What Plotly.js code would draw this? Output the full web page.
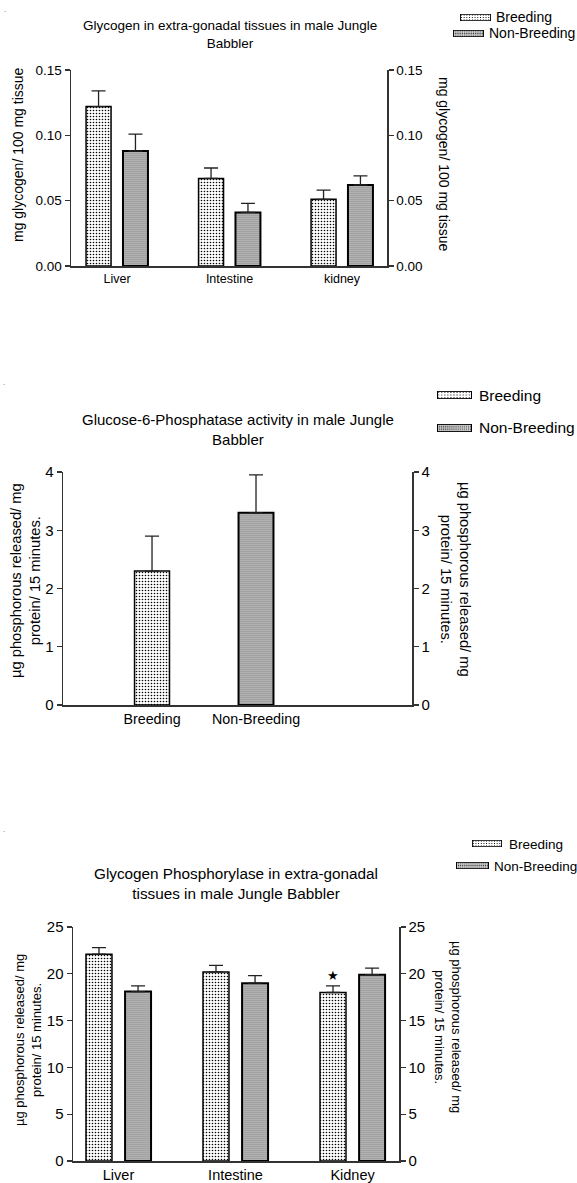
<!DOCTYPE html>
<html>
<head>
<meta charset="utf-8">
<script src="https://cdn.plot.ly/plotly-3.0.1.min.js"></script>
<style>html,body{margin:0;padding:0;background:#fff;}#chart{width:577px;height:1183px;}</style>
</head>
<body>
<div id="chart"></div>
<script>
// ---- Data ----
const tissues1 = ['Liver', 'Intestine', 'kidney'];
const glycogenBreeding = [0.122, 0.067, 0.051];
const glycogenBreedingErr = [0.012, 0.008, 0.007];
const glycogenNonBreeding = [0.088, 0.041, 0.062];
const glycogenNonBreedingErr = [0.013, 0.007, 0.007];

const g6pGroups = ['Breeding', 'Non-Breeding'];
const g6pValues = [2.3, 3.3];
const g6pErr = [0.6, 0.65];

const tissues3 = ['Liver', 'Intestine', 'Kidney'];
const phosBreeding = [22.1, 20.2, 18.0];
const phosBreedingErr = [0.7, 0.7, 0.7];
const phosNonBreeding = [18.1, 19.0, 19.9];
const phosNonBreedingErr = [0.6, 0.8, 0.7];

const ticks1 = [0, 0.05, 0.10, 0.15];
const ticks2 = [0, 1, 2, 3, 4];
const ticks3 = [0, 5, 10, 15, 20, 25];

// ---- Helpers ----
const W = 577, H = 1183;
const px = v => v / W;
const py = v => 1 - v / H;
const FONT = 'Arial, "Liberation Sans", sans-serif';
const AX = '#333';
const zeros = a => a.map(() => 0);

const patB = {shape: '.', size: 3, solidity: 0.22, fgcolor: '#000', bgcolor: '#fff'};
const patNB = {shape: '.', size: 2, solidity: 0.3, fgcolor: '#333', bgcolor: '#cdcdcd'};

function barTrace(x, y, err, xa, ya, width, offset, breeding) {
  return {
    type: 'bar', x: x, y: y, xaxis: xa, yaxis: ya, width: width, offset: offset,
    showlegend: false, hoverinfo: 'skip',
    marker: {color: '#fff', line: {color: '#000', width: breeding ? 1.5 : 2}, pattern: breeding ? patB : patNB},
    error_y: {type: 'data', symmetric: false, array: err, arrayminus: zeros(err), color: '#222', thickness: 1.3, width: 7}
  };
}
// invisible trace so that the mirrored right-hand axis is drawn
function ghost(x, y, xa, ya) {
  return {type: 'scatter', mode: 'markers', x: x, y: y, xaxis: xa, yaxis: ya, marker: {opacity: 0, size: 1},
    showlegend: false, hoverinfo: 'skip'};
}

const data = [
  barTrace(tissues1, glycogenBreeding, glycogenBreedingErr, 'x', 'y', 0.222, -0.275, true),
  barTrace(tissues1, glycogenNonBreeding, glycogenNonBreedingErr, 'x', 'y', 0.222, 0.053, false),
  ghost(tissues1, glycogenBreeding, 'x', 'y2'),
  barTrace([g6pGroups[0]], [g6pValues[0]], [g6pErr[0]], 'x2', 'y3', 0.336, -0.168, true),
  barTrace([g6pGroups[1]], [g6pValues[1]], [g6pErr[1]], 'x2', 'y3', 0.336, -0.168, false),
  ghost(g6pGroups, g6pValues, 'x2', 'y4'),
  barTrace(tissues3, phosBreeding, phosBreedingErr, 'x3', 'y5', 0.222, -0.278, true),
  barTrace(tissues3, phosNonBreeding, phosNonBreedingErr, 'x3', 'y5', 0.222, 0.056, false),
  ghost(tissues3, phosBreeding, 'x3', 'y6')
];

function xAxis(domain, range, anchor, size) {
  return {domain: domain, range: range, anchor: anchor, type: 'category', showline: true, linecolor: AX, linewidth: 1.5,
    ticks: '', showgrid: false, zeroline: false, tickfont: {size: size, color: '#000'}, fixedrange: true};
}
function yAxis(domain, range, anchor, tickvals, fmt, size, side, overlay) {
  const a = {domain: domain, range: range, anchor: anchor, tickvals: tickvals, tickformat: fmt, ticks: 'outside', ticklen: 5,
    tickwidth: 1.3, tickcolor: AX, showline: true, linecolor: AX, linewidth: 1.5, showgrid: false, zeroline: false,
    tickfont: {size: size, color: '#000'}, fixedrange: true, side: side};
  if (overlay) a.overlaying = overlay;
  return a;
}

function ann(text, x, y, size, opts) {
  return Object.assign({text: text, xref: 'paper', yref: 'paper', x: px(x), y: py(y), showarrow: false,
    xanchor: 'center', yanchor: 'middle', font: {size: size, color: '#000', family: FONT}}, opts || {});
}

function swatch(breeding) {
  const pat = breeding
    ? '<pattern id="p" width="3" height="3" patternUnits="userSpaceOnUse"><rect width="3" height="3" fill="#fff"/><rect x="1" y="1" width="1" height="1" fill="#000"/></pattern>'
    : '<pattern id="p" width="2" height="2" patternUnits="userSpaceOnUse"><rect width="2" height="2" fill="#cdcdcd"/><rect width="1" height="1" fill="#333"/></pattern>';
  const svg = '<svg xmlns="http://www.w3.org/2000/svg" width="34" height="9" viewBox="0 0 34 9" preserveAspectRatio="none"><defs>' + pat +
    '</defs><rect x="0.5" y="0.5" width="33" height="8" fill="url(#p)" stroke="#000" stroke-width="1"/></svg>';
  return 'data:image/svg+xml;charset=utf-8,' + encodeURIComponent(svg);
}
function img(breeding, left, top, w, h) {
  return {source: swatch(breeding), xref: 'paper', yref: 'paper', x: px(left), y: py(top), sizex: w / W, sizey: h / H,
    xanchor: 'left', yanchor: 'top', sizing: 'stretch', layer: 'above'};
}

const yd1 = [py(266), py(70)], yd2 = [py(705), py(472)], yd3 = [py(1161), py(927)];

const layout = {
  width: W, height: H, margin: {l: 0, r: 0, t: 0, b: 0}, paper_bgcolor: '#fff', plot_bgcolor: 'rgba(0,0,0,0)',
  font: {family: FONT, color: '#000'}, barmode: 'overlay', showlegend: false,
  xaxis: xAxis([px(71), px(387)], [-0.409, 2.4], 'y', 12.5),
  yaxis: yAxis(yd1, [0, 0.15], 'x', ticks1, '.2f', 13.5, 'left'),
  yaxis2: yAxis(yd1, [0, 0.15], 'x', ticks1, '.2f', 13.5, 'right', 'y'),
  xaxis2: xAxis([px(63), px(412)], [-0.856, 2.5], 'y3', 14.3),
  yaxis3: yAxis(yd2, [0, 4], 'x2', ticks2, 'd', 15, 'left'),
  yaxis4: yAxis(yd2, [0, 4], 'x2', ticks2, 'd', 15, 'right', 'y3'),
  xaxis3: xAxis([px(73), px(399)], [-0.389, 2.397], 'y5', 14.5),
  yaxis5: yAxis(yd3, [0, 25], 'x3', ticks3, 'd', 15, 'left'),
  yaxis6: yAxis(yd3, [0, 25], 'x3', ticks3, 'd', 15, 'right', 'y5'),
  images: [
    img(true, 460, 14, 31, 7), img(false, 453, 30, 31, 7),
    img(true, 437, 391, 35, 8), img(false, 437, 424, 35, 8),
    img(true, 472, 840, 30, 7), img(false, 456, 862, 33, 7)
  ],
  annotations: [
    // chart 1
    ann('Glycogen in extra-gonadal tissues in male Jungle<br>Babbler', 230, 34, 13.5),
    ann('mg glycogen/ 100 mg tissue', 18, 155, 14, {textangle: -90}),
    ann('mg glycogen/ 100 mg tissue', 444, 165, 14, {textangle: 90}),
    ann('Breeding', 494, 17, 14, {xanchor: 'left'}),
    ann('Non-Breeding', 487, 33, 14, {xanchor: 'left'}),
    // chart 2
    ann('Glucose-6-Phosphatase activity in male Jungle<br>Babbler', 238, 430, 15),
    ann('µg phosphorous released/ mg<br>protein/ 15 minutes.', 25, 581, 14.7, {textangle: -90}),
    ann('µg phosphorous released/ mg<br>protein/ 15 minutes.', 456, 579, 14.7, {textangle: 90}),
    ann('Breeding', 477, 395, 15.5, {xanchor: 'left'}),
    ann('Non-Breeding', 477, 428, 15.5, {xanchor: 'left'}),
    // chart 3
    ann('Glycogen Phosphorylase in extra-gonadal<br>tissues in male Jungle Babbler', 236, 883, 15.3),
    ann('µg phosphorous released/ mg<br>protein/ 15 minutes.', 28, 1040, 13, {textangle: -90}),
    ann('µg phosphorous released/ mg<br>protein/ 15 minutes.', 448, 1027, 13, {textangle: 90}),
    ann('Breeding', 507, 844, 13.5, {xanchor: 'left'}),
    ann('Non-Breeding', 492, 866, 13.5, {xanchor: 'left'}),
    {text: '★', xref: 'x3', yref: 'y5', x: tissues3[2], y: phosBreeding[2] + phosBreedingErr[2], xshift: -19.5, yshift: 1,
      showarrow: false, xanchor: 'center', yanchor: 'bottom', font: {size: 13, color: '#000'}},
    // stray dots
    ann('.', 5, 10, 8, {font: {size: 8, color: '#666'}}),
    ann('.', 4, 382, 8, {font: {size: 8, color: '#666'}}),
    ann('.', 4, 829, 8, {font: {size: 8, color: '#666'}})
  ]
};

Plotly.newPlot('chart', data, layout, {staticPlot: true, displayModeBar: false});
</script>
</body>
</html>
